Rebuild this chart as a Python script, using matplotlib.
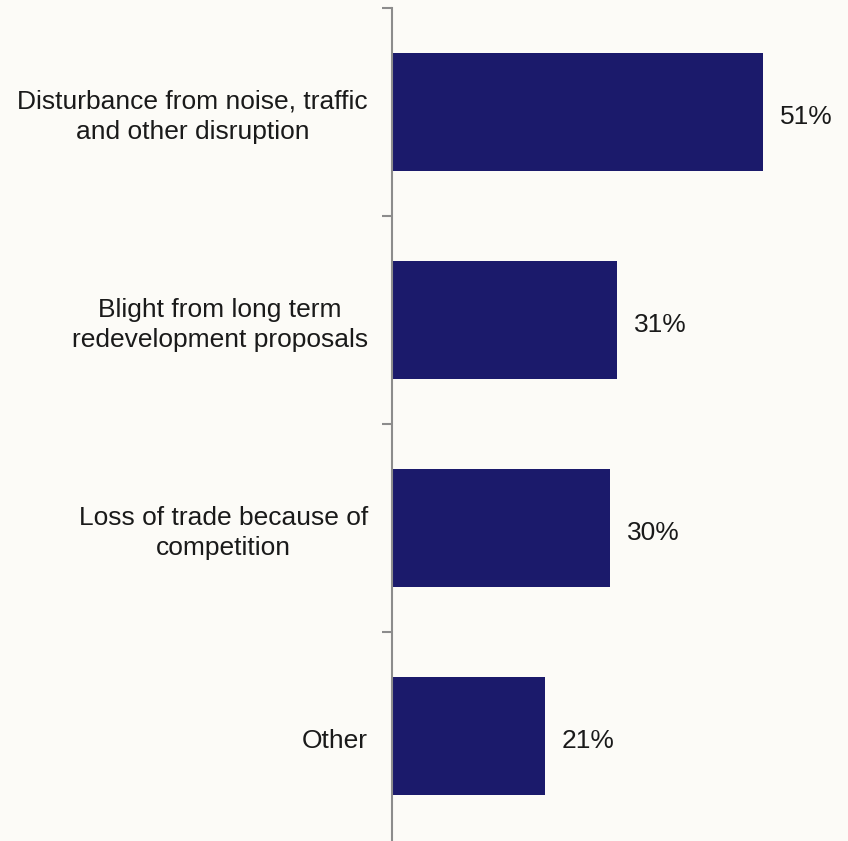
import matplotlib.pyplot as plt
import numpy as np

plt.rcParams['font.family'] = ['Liberation Sans', 'DejaVu Sans']

categories = [
    'Disturbance from noise, traffic\nand other disruption',
    'Blight from long term\nredevelopment proposals',
    'Loss of trade because of\ncompetition',
    'Other',
]
values = [51, 31, 30, 21]

bg = '#FCFBF7'
bar_color = '#1B1A6B'
axis_color = '#8C8C8C'

fig = plt.figure(figsize=(8.48, 8.41), dpi=100, facecolor=bg)
ax = fig.add_axes([392 / 848, 1 / 841, 456 / 848, 832 / 841], facecolor=bg)

y = np.arange(len(categories))
ax.barh(y, values, height=0.57, color=bar_color, edgecolor='none')

ax.set_xlim(0, 62.7)
ax.set_ylim(len(categories) - 0.5, -0.5)

for yi, v in zip(y, values):
    ax.annotate(f'{v}%', (v, yi), xytext=(17, -5), textcoords='offset pixels',
                ha='left', va='center', fontsize=19, color='#1a1a1a')

for yi, cat in zip(y, categories):
    ax.annotate(cat, (0, yi), xytext=(-24, -5), textcoords='offset pixels',
                ha='right', va='center', multialignment='center',
                fontsize=19, linespacing=1.35, color='#1a1a1a',
                annotation_clip=False)

# boundary ticks between categories (bottom one falls off the image)
ax.set_yticks(np.arange(-0.5, len(categories) - 1, 1))
ax.set_yticklabels([])
ax.tick_params(axis='y', direction='out', length=7, width=1.5, color=axis_color)
ax.set_xticks([])

for s in ['top', 'right', 'bottom']:
    ax.spines[s].set_visible(False)
ax.spines['left'].set_color(axis_color)
ax.spines['left'].set_linewidth(1.5)

fig.savefig('out.png', dpi=100, facecolor=bg)
